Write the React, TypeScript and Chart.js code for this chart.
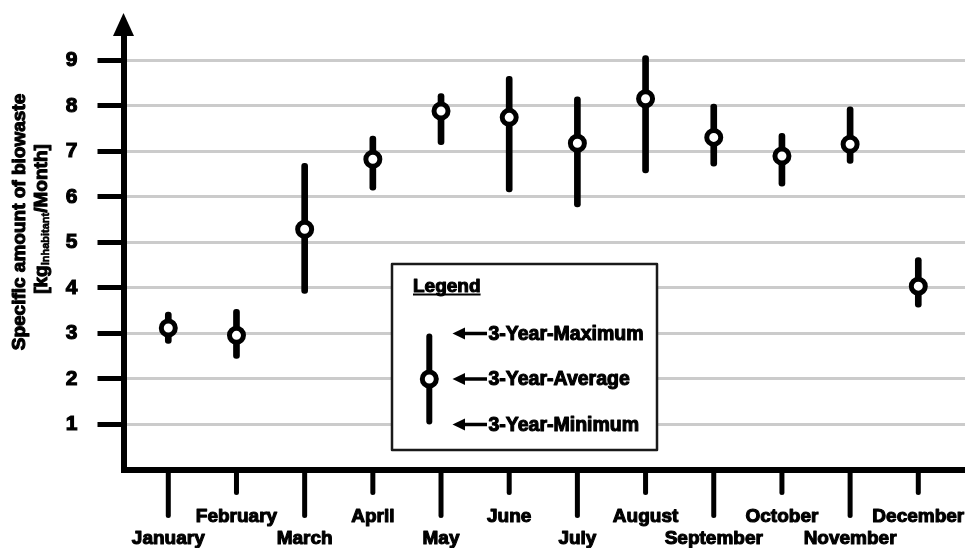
import React, { useEffect, useRef } from "react";
import { Chart, registerables } from "chart.js";
Chart.register(...registerables);

const months = ["January", "February", "March", "April", "May", "June", "July", "August", "September", "October", "November", "December"];
const avgValues = [3.12, 2.96, 5.29, 6.83, 7.89, 7.75, 7.18, 8.16, 7.31, 6.9, 7.16, 4.04];
const maxValues = [3.47, 3.53, 6.74, 7.34, 8.27, 8.65, 8.2, 9.11, 8.04, 7.4, 7.98, 4.67];
const minValues = [2.78, 2.45, 3.88, 6.15, 7.15, 6.11, 5.78, 6.53, 6.68, 6.24, 6.74, 3.58];
const yTickLabels = ["1", "2", "3", "4", "5", "6", "7", "8", "9"];
const yTitleLine1 = "Specific amount of biowaste";
const yTitleLine2 = ["[kg", "Inhabitant", "/Month]"];
const legendTitle = "Legend";
const legendLabels = ["3-Year-Maximum", "3-Year-Average", "3-Year-Minimum"];
const legendSample = { min: 1, avg: 2, max: 3 };

const FAMILY = "'Liberation Sans', Arial, sans-serif";
const STROKE = 1.1;

function heavyText(ctx: CanvasRenderingContext2D, text: string, x: number, y: number, sw = STROKE) {
  ctx.fillText(text, x, y);
  ctx.lineWidth = sw;
  ctx.lineJoin = "round";
  ctx.strokeStyle = "#000";
  ctx.strokeText(text, x, y);
}

const decoPlugin = {
  id: "deco",
  afterDraw(chart: any) {
    const { ctx, chartArea, scales } = chart;
    const xs = scales.x;
    const ys = scales.y;
    const left = chartArea.left;
    const bottom = chartArea.bottom;
    ctx.save();

    // y axis arrow head
    ctx.fillStyle = "#000";
    ctx.beginPath();
    ctx.moveTo(left, 13);
    ctx.lineTo(left + 10.5, 36);
    ctx.lineTo(left - 10.5, 36);
    ctx.closePath();
    ctx.fill();
    ctx.fillRect(left - 3, 34, 6, chartArea.top - 30);

    // x ticks + labels (staggered)
    ctx.strokeStyle = "#000";
    ctx.font = `bold 19px ${FAMILY}`;
    ctx.textAlign = "center";
    ctx.textBaseline = "alphabetic";
    months.forEach((m, i) => {
      const x = xs.getPixelForValue(i + 1);
      const long = i % 2 === 0;
      ctx.lineCap = "round";
      ctx.lineWidth = 5;
      ctx.beginPath();
      ctx.moveTo(x, bottom + 2);
      ctx.lineTo(x, bottom + (long ? 45.5 : 22.5));
      ctx.stroke();
      ctx.fillStyle = "#000";
      heavyText(ctx, m, x, long ? 544 : 521.5);
    });

    // y title
    ctx.save();
    ctx.translate(19.5, 222);
    ctx.rotate(-Math.PI / 2);
    ctx.font = `bold 19px ${FAMILY}`;
    ctx.textAlign = "center";
    ctx.textBaseline = "middle";
    ctx.fillStyle = "#000";
    heavyText(ctx, yTitleLine1, 0, 0);
    ctx.restore();

    ctx.save();
    ctx.translate(42, 219);
    ctx.rotate(-Math.PI / 2);
    ctx.textAlign = "left";
    ctx.textBaseline = "middle";
    ctx.fillStyle = "#000";
    const bigF = `bold 19px ${FAMILY}`;
    const smallF = `bold 11px ${FAMILY}`;
    ctx.font = bigF;
    const w1 = ctx.measureText(yTitleLine2[0]).width;
    const w3 = ctx.measureText(yTitleLine2[2]).width;
    ctx.font = smallF;
    const w2 = ctx.measureText(yTitleLine2[1]).width;
    let sx = -(w1 + w2 + w3) / 2;
    ctx.font = bigF;
    heavyText(ctx, yTitleLine2[0], sx, 0);
    sx += w1;
    ctx.font = smallF;
    heavyText(ctx, yTitleLine2[1], sx, 4, 0.6);
    sx += w2;
    ctx.font = bigF;
    heavyText(ctx, yTitleLine2[2], sx, 0);
    ctx.restore();

    // legend box
    const bx = 392, by = 264, bw = 265, bh = 186;
    ctx.fillStyle = "#fff";
    ctx.fillRect(bx, by, bw, bh);
    ctx.strokeStyle = "#1a1a1a";
    ctx.lineWidth = 2.5;
    ctx.lineCap = "butt";
    ctx.strokeRect(bx, by, bw, bh);

    ctx.fillStyle = "#000";
    ctx.font = `bold 19px ${FAMILY}`;
    ctx.textAlign = "left";
    ctx.textBaseline = "alphabetic";
    heavyText(ctx, legendTitle, 413, 291.5);
    const tw = ctx.measureText(legendTitle).width;
    ctx.lineWidth = 1.8;
    ctx.strokeStyle = "#000";
    ctx.beginPath();
    ctx.moveTo(413, 294.5);
    ctx.lineTo(413 + tw, 294.5);
    ctx.stroke();

    // legend sample symbol
    const lx = 429.3;
    const yMax = ys.getPixelForValue(legendSample.max);
    const yAvg = ys.getPixelForValue(legendSample.avg);
    const yMin = ys.getPixelForValue(legendSample.min);
    ctx.lineCap = "round";
    ctx.lineWidth = 6;
    ctx.beginPath();
    ctx.moveTo(lx, yMax + 3);
    ctx.lineTo(lx, yMin - 3);
    ctx.stroke();
    ctx.beginPath();
    ctx.arc(lx, yAvg, 7, 0, Math.PI * 2);
    ctx.fillStyle = "#fff";
    ctx.fill();
    ctx.lineWidth = 5;
    ctx.stroke();

    // arrows + labels
    const rows = [yMax, yAvg, yMin];
    ctx.font = `bold 19.5px ${FAMILY}`;
    ctx.textBaseline = "middle";
    rows.forEach((ry, i) => {
      ctx.fillStyle = "#000";
      ctx.strokeStyle = "#000";
      ctx.lineCap = "butt";
      ctx.lineWidth = 3.5;
      ctx.beginPath();
      ctx.moveTo(462, ry);
      ctx.lineTo(487, ry);
      ctx.stroke();
      ctx.beginPath();
      ctx.moveTo(452.5, ry);
      ctx.lineTo(465, ry - 6);
      ctx.lineTo(465, ry + 6);
      ctx.closePath();
      ctx.fill();
      heavyText(ctx, legendLabels[i], 488.5, ry + 1);
    });

    ctx.restore();
  },
};

export default function App() {
  const ref = useRef<HTMLCanvasElement | null>(null);
  useEffect(() => {
    if (!ref.current) return;
    const transparent = "rgba(0,0,0,0)";
    const chart = new Chart(ref.current, {
      type: "bar",
      data: {
        datasets: [
          {
            type: "bar",
            data: months.map((_, i) => ({ x: i + 1, y: [minValues[i], maxValues[i]] })) as any,
            backgroundColor: "#000",
            borderWidth: 0,
            barThickness: 6,
            borderRadius: 3,
            borderSkipped: false,
            order: 2,
          } as any,
          {
            type: "line",
            data: months.map((_, i) => ({ x: i + 1, y: avgValues[i] })) as any,
            showLine: false,
            pointRadius: 7,
            pointHoverRadius: 7,
            pointBorderWidth: 5,
            pointBackgroundColor: "#fff",
            pointBorderColor: "#000",
            order: 1,
          } as any,
        ],
      },
      options: {
        animation: false,
        responsive: false,
        events: [],
        layout: { autoPadding: false, padding: { top: 30, right: 0, left: 0, bottom: 0 } },
        plugins: { legend: { display: false }, tooltip: { enabled: false } },
        scales: {
          x: {
            type: "linear",
            min: 0.343,
            max: 12.685,
            offset: false,
            grid: { display: false, drawTicks: false },
            ticks: { display: false },
            border: { display: true, color: "#000", width: 6 },
            afterFit: (s: any) => {
              s.height = 78;
              s.paddingLeft = 0;
              s.paddingRight = 0;
            },
          } as any,
          y: {
            type: "linear",
            min: 0,
            max: 9.67,
            grid: {
              color: (c: any) => (c.tick && c.tick.value === 0 ? transparent : "#cbcbcb"),
              lineWidth: 3,
              tickColor: (c: any) => (c.tick && c.tick.value === 0 ? transparent : "#000"),
              tickWidth: 5,
              tickLength: 26,
              drawTicks: true,
            },
            border: { display: true, color: "#000", width: 6 },
            ticks: {
              stepSize: 1,
              includeBounds: false,
              color: "#000",
              padding: 20,
              textStrokeColor: "#000",
              textStrokeWidth: STROKE,
              font: { family: FAMILY, size: 21, weight: "bold" },
              callback: (v: any) => (v >= 1 ? yTickLabels[v - 1] ?? "" : ""),
            },
            afterFit: (s: any) => {
              s.width = 123.5;
              s.paddingTop = 0;
              s.paddingBottom = 0;
            },
          } as any,
        },
      },
      plugins: [decoPlugin],
    });
    return () => chart.destroy();
  }, []);
  return (
    <div style={{ position: "absolute", left: 0, top: 0, width: 965, height: 548, background: "#fff" }}>
      <canvas ref={ref} width={965} height={548} style={{ display: "block" }} />
    </div>
  );
}
